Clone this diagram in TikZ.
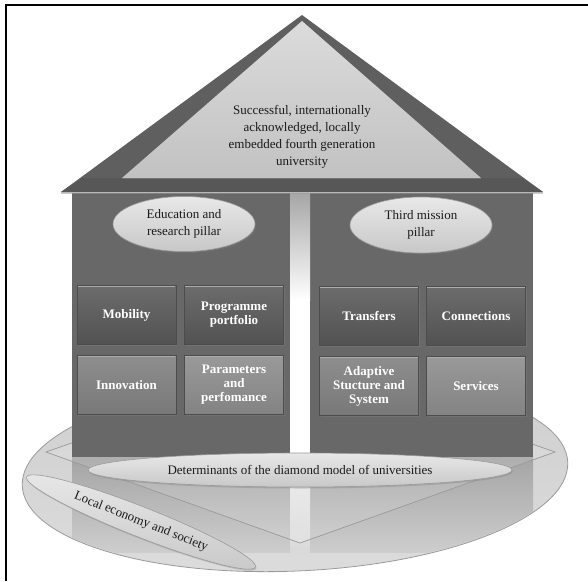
\documentclass[tikz,border=0pt]{standalone}
\usepackage{fontspec}
\setmainfont{Liberation Serif}
\usetikzlibrary{shapes.geometric,shadows}
\definecolor{wallc}{HTML}{686868}
\definecolor{roofc}{HTML}{5F5F5F}
\definecolor{eavec}{HTML}{575757}
\definecolor{outl}{HTML}{9A9A9A}
\definecolor{platA}{HTML}{CECECE}
\definecolor{platB}{HTML}{DCDCDC}
\definecolor{reflA}{HTML}{A4A4A4}
\definecolor{reflB}{HTML}{CDCDCD}
\definecolor{darkA}{HTML}{6C6C6C}
\definecolor{darkB}{HTML}{525252}
\definecolor{liteA}{HTML}{8E8E8E}
\definecolor{liteB}{HTML}{787878}
\definecolor{hilite}{HTML}{ADADAD}
\definecolor{ellA}{HTML}{E8E8E8}
\definecolor{ellB}{HTML}{C8C8C8}
\definecolor{txt}{HTML}{1A1A1A}
\tikzset{
  pill/.style={ellipse, inner sep=0pt, draw=outl, line width=0.6pt,
    top color=ellA, bottom color=ellB, align=center, text=txt,
    drop shadow={opacity=0.35, shadow xshift=1pt, shadow yshift=-1.5pt}},
  tile/.style={rectangle, minimum width=99pt, minimum height=59pt, inner sep=1pt,
    draw=black!70, line width=0.4pt, text=white, align=center,
    font=\bfseries\fontsize{13}{14}\selectfont,
    drop shadow={opacity=0.45, shadow xshift=1.2pt, shadow yshift=-1.5pt}},
  darktile/.style={tile, top color=darkA, bottom color=darkB},
  litetile/.style={tile, top color=liteA, bottom color=liteB},
}
\begin{document}
\begin{tikzpicture}[x=1pt,y=-1pt,font=\fontsize{13}{17}\selectfont]
\useasboundingbox (0,0) rectangle (588,581);

% outer frame (left and top edges)
\draw[line width=1.6pt] (6,581) -- (6,5) -- (588,5);

% platform ellipse
\node[ellipse, inner sep=0pt, minimum width=546pt, minimum height=194pt,
  rotate=2.5, draw=outl, line width=0.8pt, top color=platA, bottom color=platB]
  (platform) at (295,474) {};

% reflection of the walls in the platform
\begin{scope}
  \clip[rotate around={2.5:(295,474)}] (295,474) ellipse [x radius=272pt, y radius=96pt];
  \shade[top color=reflA, bottom color=reflB] (72,456) rectangle (290,552);
  \shade[top color=reflA, bottom color=reflB] (310,456) rectangle (533,552);
  \shade[top color=white!92!black, bottom color=platB] (290,456) rectangle (310,545);
\end{scope}

% diamond plane
\coordinate (dl) at (46,452);
\coordinate (dt) at (300,363);
\coordinate (dr) at (555,452);
\coordinate (db) at (300,543);
\draw[draw=black!40, line width=0.7pt, fill=white, fill opacity=0.12]
  (dl) -- (dt) -- (dr) -- (db) -- cycle;

% walls
\fill[wallc] (72,193) rectangle (290,457);
\fill[wallc] (310,193) rectangle (533,457);

% gap between the pillars
\shade[top color=black!35, bottom color=white] (290,193) rectangle (310,300);
\fill[white] (290,300) rectangle (310,457);

% roof
\fill[roofc] (302,15) -- (61,192) -- (543,192) -- cycle;
\fill[eavec] (82,178) -- (522,178) -- (543,192) -- (61,192) -- cycle;
\fill[black!40, opacity=0.5] (61,192) rectangle (543,194);
\shade[top color=white!86!black, bottom color=white!76!black]
  (302,21) -- (122,178) -- (481,178) -- cycle;
\draw[black!55, line width=0.6pt] (122,178) -- (481,178);

\node[align=center, text=txt] (goal) at (302,137)
  {Successful, internationally\\acknowledged, locally\\embedded fourth generation\\university};

% pillar titles
\node[pill, minimum width=142pt, minimum height=55pt] (edu) at (184,224)
  {Education and\\research pillar};
\node[pill, minimum width=142pt, minimum height=56pt] (third) at (421,225)
  {Third mission\\pillar};

% tiles
\node[darktile] (mob)  at (126.5,315) {Mobility};
\node[darktile] (prog) at (234,315) {Programme\\portfolio};
\node[litetile] (inno) at (126.5,385) {Innovation};
\node[litetile, top color=liteA!90!white, bottom color=liteB!92!white] (param) at (234,385)
  {Parameters\\and\\perfomance};
\node[darktile] (trans) at (369,316) {Transfers};
\node[darktile] (conn)  at (476,316) {Connections};
\node[litetile] (adapt) at (369,386) {Adaptive\\Stucture and\\System};
\node[litetile, top color=liteA!90!white, bottom color=liteB!92!white] (serv) at (476,386)
  {Services};
\foreach \n in {mob,prog,inno,param,trans,conn,adapt,serv}
  \draw[hilite, line width=1.4pt] ([yshift=-1pt,xshift=1pt]\n.north west) -- ([yshift=-1pt,xshift=-1pt]\n.north east);

% determinants ellipse
\node[pill, minimum width=424pt, minimum height=34pt] (det) at (300,470)
  {Determinants of the diamond model of universities};

% local economy ellipse
\node[pill, minimum width=246pt, minimum height=30pt, rotate=-21.5] (loc) at (141,522)
  {Local economy and society};
\end{tikzpicture}
\end{document}
